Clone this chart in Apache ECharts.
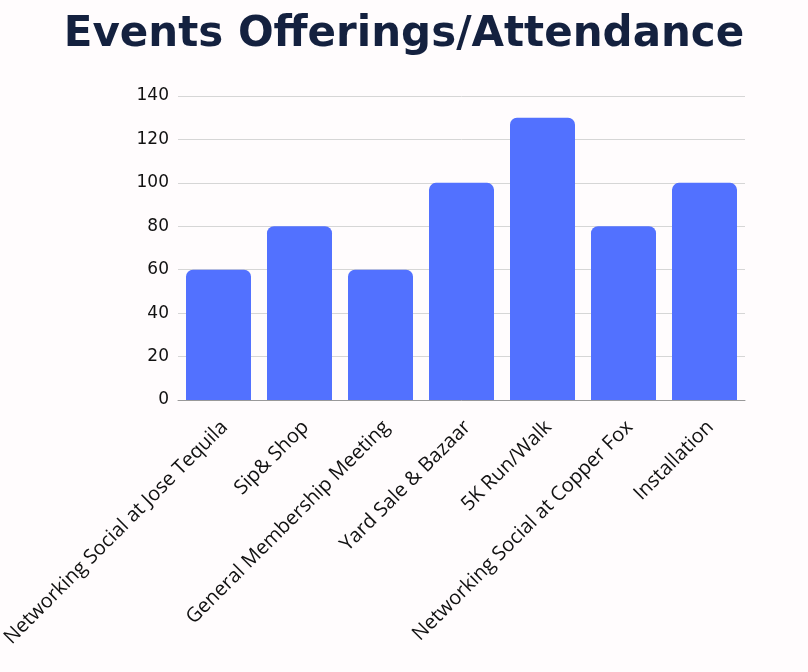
<!DOCTYPE html>
<html><head><meta charset="utf-8">
<script src="https://cdn.jsdelivr.net/npm/echarts@6/dist/echarts.min.js"></script>
<style>html,body{margin:0;padding:0;background:#fffcfd}#c{width:808px;height:672px}</style>
</head><body><div id="c"></div>
<script>
const categories = ["Networking Social at Jose Tequila","Sip& Shop","General Membership Meeting","Yard Sale & Bazaar","5K Run/Walk","Networking Social at Copper Fox","Installation"];
const attendance = [60, 80, 60, 100, 130, 80, 100];
const yTicks = {min: 0, max: 140, interval: 20};
const chart = echarts.init(document.getElementById('c'));
chart.setOption({
  backgroundColor: '#fffcfd',
  title: {text: 'Events Offerings/Attendance', left: 'center', top: 9,
    textStyle: {fontFamily: "'DejaVu Sans'", fontWeight: 'bold', fontSize: 42, color: '#14213f'}},
  grid: {left: 178, right: 63, top: 96, bottom: 272, containLabel: false, outerBoundsMode: 'none'},
  xAxis: {type: 'category', data: categories,
    axisLine: {lineStyle: {color: '#999'}}, axisTick: {show: false},
    axisLabel: {rotate: 45, interval: 0, fontFamily: "'Open Sans'", fontSize: 20, color: '#111', margin: 18,
      verticalAlign: 'top', lineHeight: 17}},
  yAxis: {type: 'value', min: yTicks.min, max: yTicks.max, interval: yTicks.interval,
    axisLine: {show: false}, axisTick: {show: false},
    axisLabel: {fontFamily: "'DejaVu Sans'", fontSize: 17, color: '#111', margin: 9},
    splitLine: {lineStyle: {color: '#d6d6d6'}}},
  series: [{type: 'bar', data: attendance, barWidth: 65,
    itemStyle: {color: '#5271ff', borderRadius: [7, 7, 0, 0]}}]
});
</script></body></html>
